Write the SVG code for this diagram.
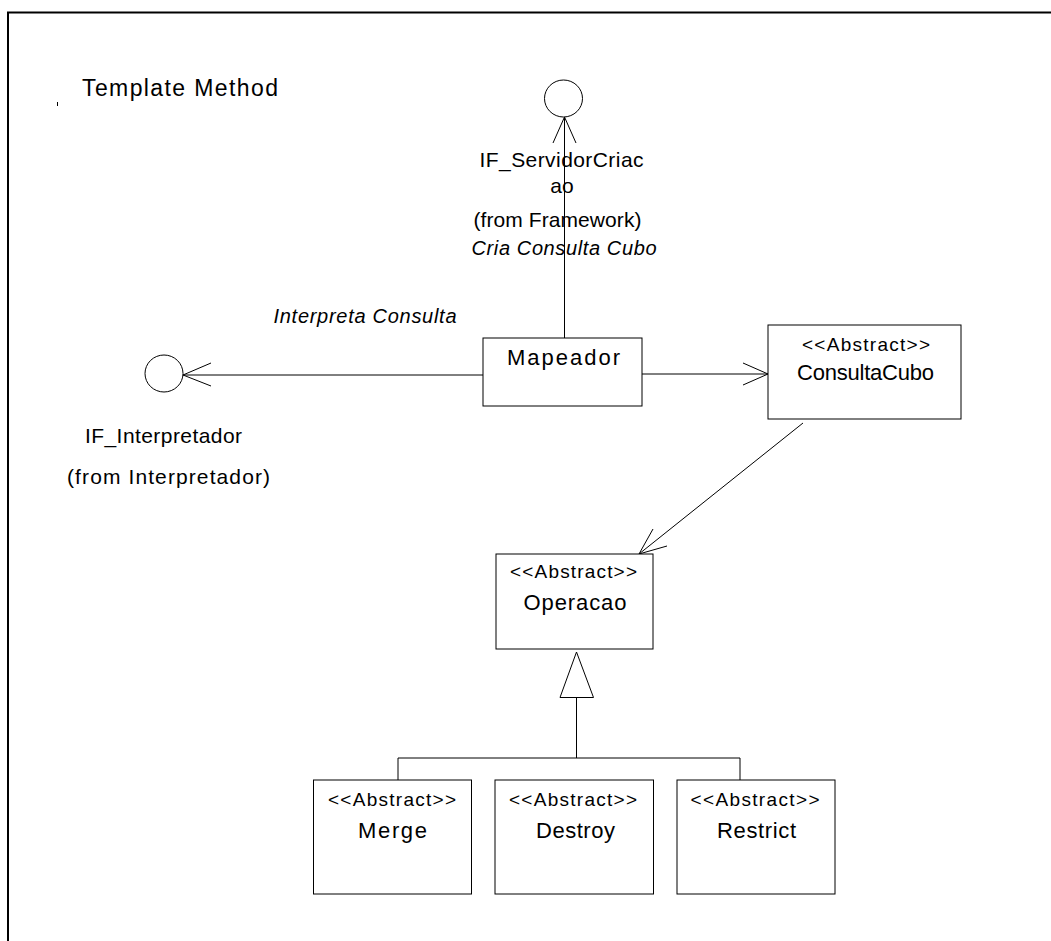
<svg xmlns="http://www.w3.org/2000/svg" width="1051" height="941" viewBox="0 0 1051 941">
<defs>
<style>
text{font-family:"Liberation Sans",Arial,sans-serif;fill:#000;}
.t{font-size:23px;}
.lbl{font-size:21px;text-anchor:middle;}
.it{font-size:20px;font-style:italic;text-anchor:middle;}
.st{font-size:19px;text-anchor:middle;}
.nm{font-size:22px;text-anchor:middle;}
.box{fill:#fff;stroke:#000;stroke-width:1;}
.ln{fill:none;stroke:#000;stroke-width:1;}
.iface{fill:#fff;stroke:#000;stroke-width:1;}
</style>
</defs>
<rect x="0" y="0" width="1051" height="941" fill="#fff"/>
<g id="frame">
<line x1="7" y1="12.5" x2="1051" y2="12.5" stroke="#000" stroke-width="2"/>
<line x1="8" y1="12" x2="8" y2="941" stroke="#000" stroke-width="2"/>
</g>
<g id="title">
<text class="t" x="82" y="96" textLength="196" lengthAdjust="spacing">Template Method</text>
<line x1="57.5" y1="102" x2="57.5" y2="106" stroke="#000" stroke-width="1"/>
</g>
<g id="connectors">
<line class="ln" x1="564.5" y1="338" x2="564.5" y2="117"/>
<polyline class="ln" points="553,143 564.5,117 576,143"/>
<line class="ln" x1="483" y1="375" x2="183" y2="375"/>
<polyline class="ln" points="211,363 183,375 211,386"/>
<line class="ln" x1="642" y1="374" x2="768" y2="374"/>
<polyline class="ln" points="743,363 768,374 743,385"/>
<line class="ln" x1="803" y1="423" x2="639" y2="554"/>
<polyline class="ln" points="653,529 639,554 667,546"/>
<polygon class="ln" points="576.5,652 560,697.5 593.5,697.5"/>
<line class="ln" x1="576.5" y1="697.5" x2="576.5" y2="758"/>
<polyline class="ln" points="398,780 398,758 740,758 740,780"/>
<text class="it" x="564" y="255" textLength="185" lengthAdjust="spacing">Cria Consulta Cubo</text>
<text class="it" x="365" y="323" textLength="183" lengthAdjust="spacing">Interpreta Consulta</text>
</g>
<g id="IF_ServidorCriacao">
<ellipse class="iface" cx="563.5" cy="98.5" rx="19" ry="18.5"/>
<text class="lbl" x="561.5" y="167" textLength="164" lengthAdjust="spacing">IF_ServidorCriac</text>
<text class="lbl" x="562" y="193">ao</text>
<text class="lbl" x="557.5" y="227" textLength="168" lengthAdjust="spacing">(from Framework)</text>
</g>
<g id="IF_Interpretador">
<ellipse class="iface" cx="164" cy="373.5" rx="19" ry="18.5"/>
<text class="lbl" x="163.5" y="443" textLength="157" lengthAdjust="spacing">IF_Interpretador</text>
<text class="lbl" x="168.5" y="484" textLength="203" lengthAdjust="spacing">(from Interpretador)</text>
</g>
<g id="Mapeador">
<rect class="box" x="483" y="338" width="159" height="68"/>
<text class="nm" x="563.5" y="365" textLength="113" lengthAdjust="spacing">Mapeador</text>
</g>
<g id="ConsultaCubo">
<rect class="box" x="768" y="325" width="193" height="94"/>
<text class="st" x="866" y="351" textLength="128" lengthAdjust="spacing">&lt;&lt;Abstract&gt;&gt;</text>
<text class="nm" x="865.5" y="380" textLength="137" lengthAdjust="spacing">ConsultaCubo</text>
</g>
<g id="Operacao">
<rect class="box" x="496" y="554" width="157" height="95"/>
<text class="st" x="573.5" y="578" textLength="127" lengthAdjust="spacing">&lt;&lt;Abstract&gt;&gt;</text>
<text class="nm" x="575" y="610" textLength="103" lengthAdjust="spacing">Operacao</text>
</g>
<g id="Merge">
<rect class="box" x="313.5" y="780" width="158" height="114"/>
<text class="st" x="392" y="806" textLength="128" lengthAdjust="spacing">&lt;&lt;Abstract&gt;&gt;</text>
<text class="nm" x="392.5" y="837.5" textLength="69" lengthAdjust="spacing">Merge</text>
</g>
<g id="Destroy">
<rect class="box" x="495" y="780" width="158.5" height="114"/>
<text class="st" x="573" y="806" textLength="128" lengthAdjust="spacing">&lt;&lt;Abstract&gt;&gt;</text>
<text class="nm" x="575.5" y="837.5" textLength="79" lengthAdjust="spacing">Destroy</text>
</g>
<g id="Restrict">
<rect class="box" x="677" y="780" width="158" height="114"/>
<text class="st" x="755" y="806" textLength="129" lengthAdjust="spacing">&lt;&lt;Abstract&gt;&gt;</text>
<text class="nm" x="756.5" y="837.5" textLength="79" lengthAdjust="spacing">Restrict</text>
</g>
</svg>
